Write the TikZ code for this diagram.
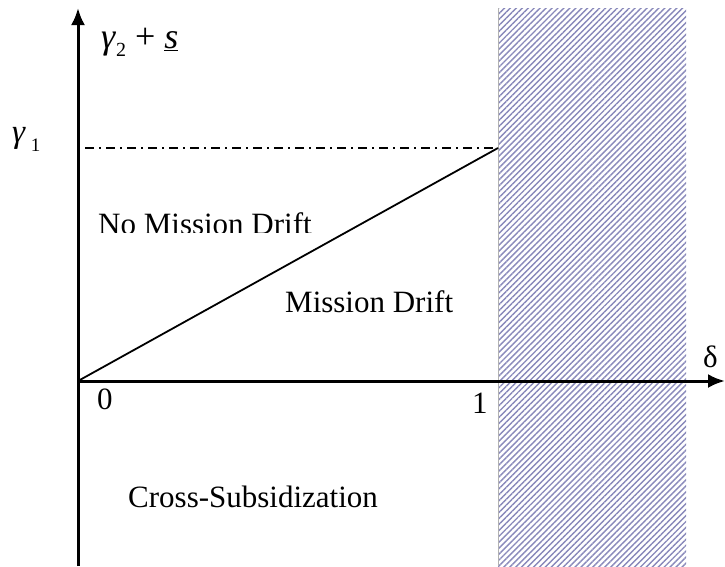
\documentclass[tikz,border=0pt]{standalone}
\usepackage{fontspec}
\setmainfont{Liberation Serif}
\usepackage{xcolor}
\usepackage{tikz}
\usetikzlibrary{arrows.meta, patterns.meta, positioning}

\definecolor{hatchblue}{RGB}{136,136,186}

\tikzset{
    axis/.style={line width=3pt, -{Latex[length=17pt, width=14pt]}},
    region/.style={font=\fontsize{31}{36}\selectfont, inner sep=0pt},
    ticklabel/.style={font=\fontsize{31}{36}\selectfont, inner sep=0pt, anchor=base west},
}

\begin{document}
\begin{tikzpicture}[x=1pt, y=-1pt]
    \useasboundingbox (0,0) rectangle (725,566);

    % Excluded region (delta > 1)
    \pattern[pattern={Lines[angle=45, distance=4.2pt, line width=1.4pt]}, pattern color=hatchblue]
        (498,8) rectangle (686,566);
    \draw[gray!60, line width=0.8pt] (498,8) -- (498,566);

    % Axes
    \coordinate (O) at (78,381);
    \coordinate (ybot) at (78,566);
    \coordinate (ytop) at (78,8);
    \coordinate (xend) at (725,381);
    \draw[axis] (ybot) -- (ytop);
    \draw[axis] (O) -- (xend);

    % Threshold gamma_1 and boundary line
    \coordinate (g1) at (85,148);
    \coordinate (P) at (498,148);
    \draw[line width=1.8pt, dash pattern=on 9pt off 5pt on 2pt off 5pt] (g1) -- (P);
    \draw[line width=1.8pt] (O) -- (P);

    % Axis labels
    \node[ticklabel] (lgamma1) at (12,142) {\fontsize{33}{38}\selectfont\textit{γ}\hspace{5pt}\raisebox{-9pt}{\fontsize{19}{22}\selectfont 1}};
    \node[ticklabel] (lgamma2) at (101,48) {\fontsize{36}{40}\selectfont\textit{γ}\raisebox{-8pt}{\fontsize{20}{22}\selectfont 2} + \underline{\textit{s}}};
    \node[ticklabel] (ldelta) at (703,367) {δ};
    \node[ticklabel] (lzero) at (97,409) {0};
    \node[ticklabel] (lone) at (472,413) {1};

    % Regions
    \begin{scope}
        \clip (0,0) rectangle (725,232);
        \node[region, anchor=base west] (nodrift) at (98,234) {No Mission Drift};
    \end{scope}
    \node[region, anchor=base west] (drift) at (285,312) {Mission Drift};
    \node[region, anchor=base west] (cross) at (128,507) {Cross-Subsidization};
\end{tikzpicture}
\end{document}
